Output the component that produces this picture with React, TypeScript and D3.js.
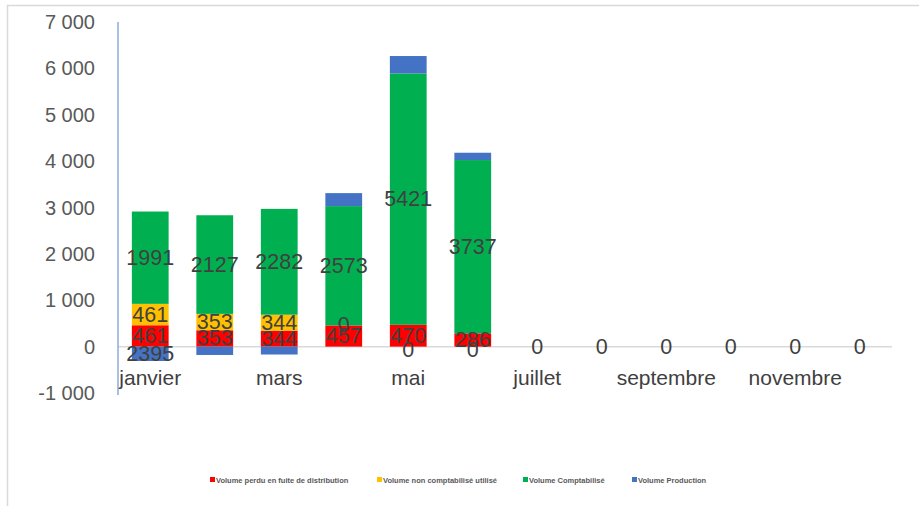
import React from 'react';
import * as d3 from 'd3';

const months = ['janvier', 'février', 'mars', 'avril', 'mai', 'juin', 'juillet', 'août', 'septembre', 'octobre', 'novembre', 'décembre'];
const perdu = [461, 353, 344, 457, 470, 286, 0, 0, 0, 0, 0, 0];
const nonComptabilise = [461, 353, 344, 0, 0, 0, 0, 0, 0, 0, 0, 0];
const comptabilise = [1991, 2127, 2282, 2573, 5421, 3737, 0, 0, 0, 0, 0, 0];
const production = [-310, -180, -170, 280, 375, 158, 0, 0, 0, 0, 0, 0];
// labels shown by the sheet (the production label only shows for janvier)
const productionLabels = ['2395', '', '', '', '', '', '', '', '', '', '', ''];
const zeroLabels = ['', '', '', '', '0', '0', '0', '0', '0', '0', '0', '0'];
const yTicks = [-1000, 0, 1000, 2000, 3000, 4000, 5000, 6000, 7000];
const shownMonths = ['janvier', 'mars', 'mai', 'juillet', 'septembre', 'novembre'];

const seriesKeys = ['perdu', 'nonComptabilise', 'comptabilise', 'production'];
const seriesNames = ['Volume perdu en fuite de distribution', 'Volume non comptabilisé utilisé', 'Volume Comptabilisé', 'Volume Production'];
const colors = ['#FF0000', '#FFC000', '#00B050', '#4472C4'];
const legendX = [210, 377, 523, 632];

const width = 919;
const height = 506;
const font = '"Liberation Sans", Arial, sans-serif';

const fmt = (v: number) => {
  const s = Math.abs(v).toString().replace(/\B(?=(\d{3})+(?!\d))/g, ' ');
  return (v < 0 ? '-' : '') + s;
};

export default function App() {
  const rows = months.map((m, i) => ({
    month: m,
    perdu: perdu[i],
    nonComptabilise: nonComptabilise[i],
    comptabilise: comptabilise[i],
    production: production[i],
  }));

  const stacked = d3.stack<any>().keys(seriesKeys).offset(d3.stackOffsetDiverging)(rows);

  const x = d3.scaleBand().domain(months).range([118, 892]).paddingInner(0.43).paddingOuter(0.215);
  const y = d3.scaleLinear().domain([-1000, 7000]).range([393, 22]);

  const labels: { x: number; y: number; text: string }[] = [];
  months.forEach((m, i) => {
    let top = 0;
    const cx = (x(m) as number) + x.bandwidth() / 2;
    stacked.forEach((s, si) => {
      const d = s[i];
      const v = rows[i][seriesKeys[si]];
      if (si < 3 && i < 6) {
        if (v > 0) {
          labels.push({ x: cx, y: y((d[0] + d[1]) / 2), text: String(v) });
          top = d[1];
        } else if (i === 3) {
          labels.push({ x: cx, y: y(top), text: '0' });
        }
      }
      if (si === 3 && productionLabels[i]) {
        labels.push({ x: cx, y: y((d[0] + d[1]) / 2), text: productionLabels[i] });
      }
    });
    if (zeroLabels[i]) {
      labels.push({ x: cx, y: y(0) + (i < 6 ? 3 : 0), text: zeroLabels[i] });
    }
  });

  return (
    <svg width={width} height={height} style={{ position: 'absolute', left: 0, top: 0, background: '#fff' }} fontFamily={font}>
      <rect x={7.5} y={5.5} width={930} height={520} fill="none" stroke="#d9d9d9" strokeWidth={1.5} />

      {yTicks.map(t => (
        <text key={t} x={95} y={y(t)} textAnchor="end" dominantBaseline="central" fontSize={20} fill="#595959">
          {fmt(t)}
        </text>
      ))}

      <line x1={118} x2={892} y1={y(0)} y2={y(0)} stroke="#d9d9d9" strokeWidth={1.5} />

      {stacked.map((s, si) => (
        <g key={seriesKeys[si]} fill={colors[si]}>
          {s.map((d, i) => {
            const y0 = y(Math.max(d[0], d[1]));
            const y1 = y(Math.min(d[0], d[1]));
            if (y1 - y0 <= 0) return null;
            return <rect key={i} x={x(months[i])} y={y0} width={x.bandwidth()} height={y1 - y0} />;
          })}
        </g>
      ))}

      <line x1={118} x2={118} y1={22} y2={395} stroke="#8FAADC" strokeWidth={1.5} />

      {labels.map((l, i) => (
        <text key={i} x={l.x} y={l.y} textAnchor="middle" dominantBaseline="central" fontSize={21.5} fill="#404040">
          {l.text}
        </text>
      ))}

      {shownMonths.map(m => (
        <text key={m} x={(x(m) as number) + x.bandwidth() / 2} y={385} textAnchor="middle" fontSize={21} fill="#404040">
          {m}
        </text>
      ))}

      {seriesNames.map((n, i) => (
        <g key={n}>
          <rect x={legendX[i]} y={477} width={5} height={5} fill={colors[i]} />
          <text x={legendX[i] + 6} y={482.5} fontSize={7.5} fontWeight="bold" fill="#595959">
            {n}
          </text>
        </g>
      ))}
    </svg>
  );
}
